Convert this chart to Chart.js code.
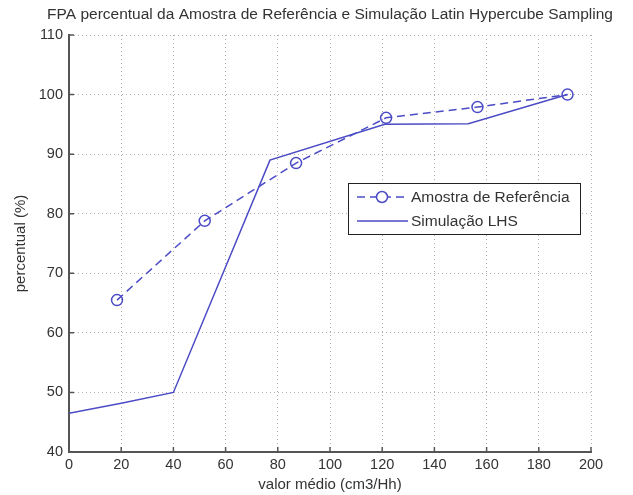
<!DOCTYPE html>
<html>
<head>
<meta charset="utf-8">
<script src="https://cdn.jsdelivr.net/npm/chart.js@4/dist/chart.umd.min.js"></script>
<style>
html,body{margin:0;padding:0;background:#fff;}
#wrap{width:633px;height:495px;}
</style>
</head>
<body>
<div id="wrap"><canvas id="c" width="633" height="495"></canvas></div>
<script>
// DATA
const refX=[18.4,52,87,121.5,156.5,191];
const refY=[65.5,78.8,88.5,96.1,97.9,100];
const simX=[0,20,40,77,121,153,191];
const simY=[46.5,48.2,50,89,95,95.1,100];
const xTicks=[0,20,40,60,80,100,120,140,160,180,200];
const yTicks=[40,50,60,70,80,90,100,110];
const seriesNames=["Amostra de Referência","Simulação LHS"];

const font="'Liberation Sans', Arial, sans-serif";
const lineColor="#4b4bc6";

function pts(xs,ys){ return xs.map((x,i)=>({x:x,y:ys[i]})); }

// TITLE
const titlePlugin={
    id:"topTitle",
    afterDraw(chart){
        const ctx=chart.ctx;
        const a=chart.chartArea;
        ctx.save();
        ctx.font="15.5px "+font;
        ctx.fillStyle="#333";
        ctx.textAlign="center";
        ctx.textBaseline="middle";
        ctx.fillText("FPA percentual da Amostra de Referência e Simulação Latin Hypercube Sampling",(a.left+a.right)/2,15);
        ctx.restore();
    }
};

// INWARD TICKS
const tickPlugin={
    id:"inTicks",
    afterDatasetsDraw(chart){
        const ctx=chart.ctx;
        const a=chart.chartArea;
        const xs=chart.scales.x, ys=chart.scales.y;
        ctx.save();
        ctx.strokeStyle="#555";
        ctx.lineWidth=1.5;
        ctx.beginPath();
        xTicks.forEach(v=>{
            const p=xs.getPixelForValue(v);
            ctx.moveTo(p,a.bottom); ctx.lineTo(p,a.bottom-5);
        });
        yTicks.forEach(v=>{
            const p=ys.getPixelForValue(v);
            ctx.moveTo(a.left,p); ctx.lineTo(a.left+5,p);
        });
        ctx.stroke();
        ctx.restore();
    }
};

// LEGEND BOX
const legendPlugin={
    id:"boxLegend",
    afterDraw(chart){
        const ctx=chart.ctx;
        const x0=348,y0=183,w=232,h=51;
        ctx.save();
        ctx.fillStyle="#fff";
        ctx.fillRect(x0,y0,w,h);
        ctx.strokeStyle="#222";
        ctx.lineWidth=1;
        ctx.strokeRect(x0+0.5,y0+0.5,w,h);
        ctx.font="15.5px "+font;
        ctx.textBaseline="middle";
        chart.data.datasets.forEach((ds,i)=>{
            const yy=y0+14+i*24;
            ctx.strokeStyle=ds.borderColor;
            ctx.lineWidth=1.5;
            ctx.setLineDash(ds.borderDash||[]);
            ctx.beginPath();
            ctx.moveTo(x0+9,yy); ctx.lineTo(x0+60,yy);
            ctx.stroke();
            ctx.setLineDash([]);
            if(ds.pointRadius>0){
                ctx.beginPath();
                ctx.fillStyle="#fff";
                ctx.arc(x0+34,yy,5.5,0,Math.PI*2);
                ctx.fill();
                ctx.stroke();
            }
            ctx.fillStyle="#333";
            ctx.fillText(ds.label,x0+63,yy+1);
        });
        ctx.restore();
    }
};

new Chart(document.getElementById("c"),{
    type:"scatter",
    data:{
        datasets:[
            {
                label:seriesNames[0],
                data:pts(refX,refY),
                showLine:true,
                borderColor:lineColor,
                borderWidth:1.5,
                borderDash:[8,5],
                pointRadius:5.5,
                pointBorderWidth:1.5,
                pointBorderColor:lineColor,
                pointBackgroundColor:"rgba(255,255,255,0)",
                tension:0
            },
            {
                label:seriesNames[1],
                data:pts(simX,simY),
                showLine:true,
                borderColor:lineColor,
                borderWidth:1.5,
                pointRadius:0,
                tension:0
            }
        ]
    },
    options:{
        responsive:false,
        animation:false,
        layout:{padding:{top:35,right:42,left:0,bottom:0}},
        plugins:{legend:{display:false},tooltip:{enabled:false},title:{display:false}},
        scales:{
            x:{
                type:"linear",min:0,max:200,
                afterBuildTicks(s){ s.ticks=xTicks.map(v=>({value:v})); },
                afterFit(s){ s.height=43; },
                grid:{color:"#b0b0b0",drawTicks:false,lineWidth:1},
                border:{color:"#555",width:2,dash:[1,3]},
                ticks:{color:"#333",font:{family:font,size:14.5},padding:4,maxRotation:0},
                title:{display:true,text:"valor médio (cm3/Hh)",color:"#333",font:{family:font,size:15},padding:{top:1,bottom:1}}
            },
            y:{
                type:"linear",min:40,max:110,
                afterBuildTicks(s){ s.ticks=yTicks.map(v=>({value:v})); },
                afterFit(s){ s.width=69; },
                grid:{color:"#b0b0b0",drawTicks:false,lineWidth:1},
                border:{color:"#555",width:2,dash:[1,3]},
                ticks:{color:"#333",font:{family:font,size:14.5},padding:6},
                title:{display:true,text:"percentual (%)",color:"#333",font:{family:font,size:15},padding:{top:12,bottom:0}}
            }
        }
    },
    plugins:[titlePlugin,tickPlugin,legendPlugin]
});
</script>
</body>
</html>
